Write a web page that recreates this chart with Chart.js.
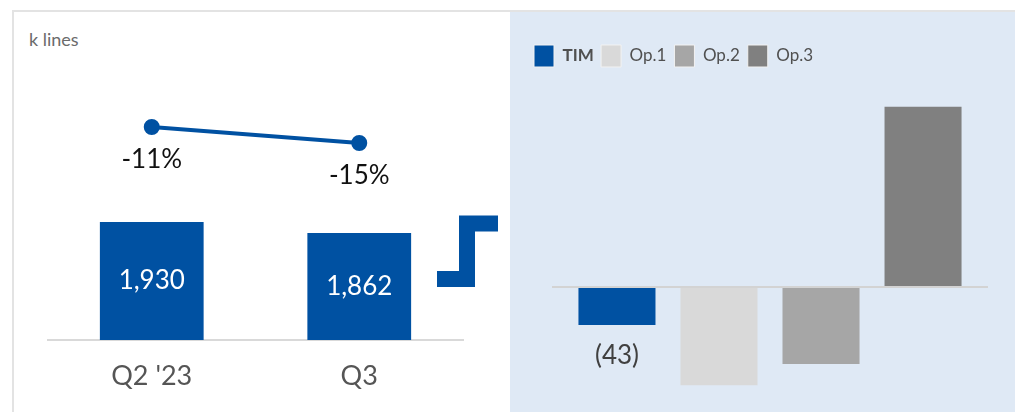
<!DOCTYPE html>
<html>
<head>
<meta charset="utf-8">
<script src="https://cdn.jsdelivr.net/npm/chart.js@4"></script>
<style>
  html, body { margin: 0; padding: 0; background: #fff; }
  body { width: 1015px; height: 412px; position: relative; overflow: hidden; font-family: Lato, "Noto Sans", sans-serif; }
  #frame { position: absolute; left: 12px; top: 10px; width: 1010px; height: 410px; border-top: 2px solid #e3e3e3; border-left: 2px solid #e3e3e3; }
  #unit { position: absolute; left: 29px; top: 28px; font-size: 18px; color: #6b6b6b; }
  #leftBox { position: absolute; left: 13px; top: 12px; width: 497px; height: 400px; }
  #rightBox { position: absolute; left: 510px; top: 12px; width: 505px; height: 400px; background: #dfe9f5; }
  #step { position: absolute; left: 0; top: 0; }
</style>
</head>
<body>
<div id="frame"></div>
<div id="unit">k lines</div>
<div id="leftBox"><canvas id="lines"></canvas></div>
<div id="rightBox"><canvas id="netAdds"></canvas></div>
<svg id="step" width="1015" height="412">
  <polyline points="437,279 467,279 467,223.5 498,223.5" fill="none" stroke="#0051a2" stroke-width="16" stroke-linejoin="miter"/>
</svg>
<script>
// data
const quarters = ["Q2 '23", "Q3"];
const lineBase = [1930, 1862];       // k lines
const yoyChange = [-11, -15];        // % YoY
const operators = ['TIM', 'Op.1', 'Op.2', 'Op.3'];
const netAdds = [-43, -111, -87, 204];
const netAddLabels = ['(43)', '', '', ''];

const BLUE = '#0051a2';
const opColors = [BLUE, '#d9d9d9', '#a6a6a6', '#808080'];
const FONT = 'Lato, "Noto Sans", sans-serif';

// left chart: bars + yoy line
const leftLabels = {
    id: 'leftLabels',
    afterDatasetsDraw(chart) {
        const ctx = chart.ctx;
        const bottom = chart.chartArea.bottom;
        ctx.save();
        ctx.textAlign = 'center';
        ctx.textBaseline = 'middle';
        chart.getDatasetMeta(0).data.forEach(function(bar, i) {
            ctx.fillStyle = '#ffffff';
            ctx.font = '26px ' + FONT;
            ctx.fillText(lineBase[i].toLocaleString('en-US'), bar.x, (bar.y + Math.min(bar.base, bottom)) / 2);
        });
        chart.getDatasetMeta(1).data.forEach(function(pt, i) {
            ctx.fillStyle = '#111111';
            ctx.font = '26px ' + FONT;
            ctx.fillText(yoyChange[i] + '%', pt.x, pt.y + 33);
        });
        ctx.restore();
    }
};

new Chart(document.getElementById('lines'), {
    type: 'bar',
    data: {
        labels: quarters,
        datasets: [{
            data: lineBase,
            yAxisID: 'y',
            backgroundColor: BLUE,
            barPercentage: 0.5,
            categoryPercentage: 1,
            order: 1
        }, {
            type: 'line',
            data: yoyChange,
            yAxisID: 'y2',
            borderColor: BLUE,
            backgroundColor: BLUE,
            borderWidth: 4,
            pointRadius: 6,
            pointBackgroundColor: BLUE,
            tension: 0,
            order: 0
        }]
    },
    options: {
        responsive: true,
        maintainAspectRatio: false,
        animation: false,
        layout: { autoPadding: false, padding: { left: 35, right: 47, top: 0, bottom: 0 } },
        plugins: { legend: { display: false }, tooltip: { enabled: false } },
        scales: {
            x: {
                grid: { display: false, drawTicks: false },
                border: { display: true, color: '#d9d9d9', width: 2 },
                ticks: { color: '#555555', font: { family: FONT, size: 27 }, padding: 20 },
                afterFit: function(s) { s.height = 72; }
            },
            y: { display: false, min: 1200, max: 3230 },
            y2: { display: false, min: -64.25, max: 17.75 }
        }
    },
    plugins: [leftLabels]
});

// right chart: net adds by operator
const rightLabels = {
    id: 'rightLabels',
    afterDatasetsDraw(chart) {
        const ctx = chart.ctx;
        ctx.save();
        ctx.textAlign = 'center';
        ctx.textBaseline = 'middle';
        ctx.fillStyle = '#404040';
        ctx.font = '26px ' + FONT;
        netAddLabels.forEach(function(txt, i) {
            if (!txt) return;
            const bar = chart.getDatasetMeta(i).data[0];
            ctx.fillText(txt, bar.x, bar.y + 31);
        });
        ctx.restore();
    },
    afterDraw(chart) {
        // TIM is bold in the legend
        const lg = chart.legend;
        if (!lg || !lg.legendHitBoxes.length) return;
        const box = lg.legendHitBoxes[0];
        const ctx = chart.ctx;
        ctx.save();
        ctx.fillStyle = '#505050';
        ctx.font = 'bold 17px ' + FONT;
        ctx.textAlign = 'left';
        ctx.textBaseline = 'middle';
        ctx.fillText(operators[0], box.left + 20 + 8.5, box.top + 11);
        ctx.restore();
    }
};

new Chart(document.getElementById('netAdds'), {
    type: 'bar',
    data: {
        labels: [''],
        datasets: operators.map(function(name, i) {
            return {
                label: name,
                data: [netAdds[i]],
                backgroundColor: opColors[i],
                borderWidth: 0,
                barPercentage: 0.755,
                categoryPercentage: 0.936
            };
        })
    },
    options: {
        responsive: true,
        maintainAspectRatio: false,
        animation: false,
        layout: { padding: { left: 16, right: 27, top: 25, bottom: 12 } },
        plugins: {
            tooltip: { enabled: false },
            legend: {
                position: 'top',
                align: 'start',
                labels: {
                    boxWidth: 20,
                    boxHeight: 22,
                    padding: 8,
                    color: '#505050',
                    font: { family: FONT, size: 17 },
                    generateLabels: function(chart) {
                        return Chart.defaults.plugins.legend.labels.generateLabels(chart).map(function(l, i) {
                            l.strokeStyle = '#f2f2f2';
                            l.lineWidth = 1;
                            if (i === 0) l.fontColor = 'rgba(0,0,0,0)';
                            return l;
                        });
                    }
                }
            }
        },
        scales: {
            x: { display: false },
            y: {
                min: -127.8,
                max: 237.6,
                ticks: { display: false },
                border: { display: false },
                grid: {
                    drawTicks: false,
                    lineWidth: 2,
                    color: function(c) { return c.tick && c.tick.value === 0 ? '#d3d3d3' : 'transparent'; }
                },
                afterFit: function(s) { s.width = 26; }
            }
        }
    },
    plugins: [rightLabels]
});
</script>
</body>
</html>
